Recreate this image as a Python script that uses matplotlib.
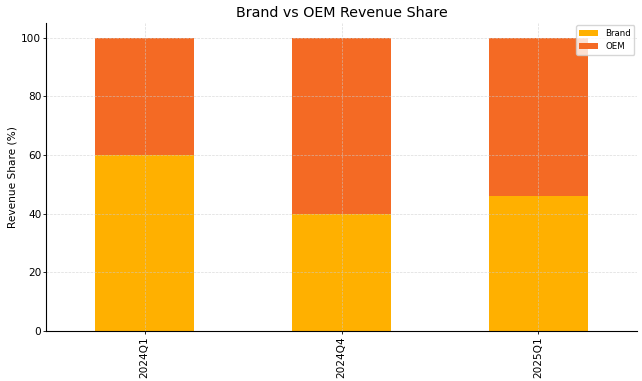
import matplotlib.pyplot as plt
import numpy as np

quarters = ["2024Q1", "2024Q4", "2025Q1"]
brand_share = [60, 40, 46]
oem_share = [40, 60, 54]

BRAND_COLOUR = "#FFB000"
OEM_COLOUR = "#F46A24"

fig = plt.figure(figsize=(6.42, 3.81), dpi=100)
ax = fig.add_axes([0.072, 0.131, 0.92, 0.809])

x = np.arange(len(quarters))
ax.bar(x, brand_share, width=0.5, color=BRAND_COLOUR, label="Brand")
ax.bar(x, oem_share, width=0.5, bottom=brand_share, color=OEM_COLOUR, label="OEM")

ax.set_xlim(-0.5, len(quarters) - 0.5)
ax.set_ylim(0, 105)
ax.set_xticks(x)
ax.set_xticklabels(quarters, rotation=90)
ax.tick_params(axis="both", labelsize=7.6, length=2, width=0.6, pad=1.5)
ax.set_ylabel("Revenue Share (%)", fontsize=7.6, labelpad=3)
ax.set_title("Brand vs OEM Revenue Share", fontsize=10.3, pad=4)

ax.grid(True, linestyle="--", linewidth=0.5, color="#cccccc", alpha=0.7)
for side in ("top", "right"):
    ax.spines[side].set_visible(False)
for side in ("left", "bottom"):
    ax.spines[side].set_linewidth(0.8)

ax.legend(loc="upper right", fontsize=6.2, handlelength=2.2, borderpad=0.4,
          borderaxespad=0.3)

fig.savefig("out.png", dpi=100)
